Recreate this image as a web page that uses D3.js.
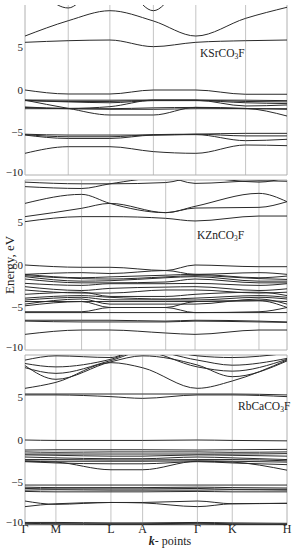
<!DOCTYPE html>
<html>
<head>
<meta charset="utf-8">
<script src="https://cdn.jsdelivr.net/npm/d3@7"></script>
<style>
  body { margin: 0; background: #fff; }
  text { font-family: "Liberation Serif", "DejaVu Serif", serif; fill: #222; }
</style>
</head>
<body>
<div id="chart"></div>
<script>
// k-path labels and positions (fraction of path length) for each compound
var kLabels = ["Γ", "M", "L", "A", "Γ", "K", "H"];
var ksrKDist = [0, 0.165, 0.324, 0.490, 0.652, 0.842, 1];
var kznKDist = [0, 0.216, 0.324, 0.537, 0.649, 0.893, 1];
var rbcKDist = [0, 0.118, 0.328, 0.449, 0.658, 0.791, 1];

var energyTicks = [5, 0, -5, -10];

// band energies (eV) at Γ, M, L, A, Γ, K, H
var ksrBands = [
  [5.61, 5.80, 5.88, 5.10, 5.61, 5.80, 5.88],
  [6.35, 8.15, 9.33, 8.12, 6.35, 8.43, 9.73],
  [14, 9.65, 14, 9.33, 14, 14, 14],
  [0, -0.47, -0.47, 0, 0, -0.5, -0.5],
  [-1.18, -1.2, -1.2, -1.18, -1.18, -1.2, -1.25],
  [-1.2, -1.35, -1.35, -1.2, -1.2, -1.35, -1.4],
  [-1.25, -1.4, -1.5, -1.25, -1.25, -1.5, -1.6],
  [-1.2, -2.16, -2.94, -2.94, -2.04, -2.16, -3.06],
  [-2.0, -2.16, -1.96, -1.2, -1.2, -1.88, -1.76],
  [-2.2, -2.2, -2.27, -2.27, -2.2, -2.2, -2.27],
  [-2.05, -2.2, -2.2, -2.1, -2.05, -2.2, -2.2],
  [-5.2, -5.3, -5.3, -5.3, -5.2, -5.1, -5.1],
  [-5.3, -5.7, -5.7, -5.3, -5.25, -5.96, -5.8],
  [-5.25, -5.5, -5.5, -5.25, -5.2, -5.4, -5.4],
  [-7.45, -6.67, -6.67, -7.25, -7.45, -6.47, -6.55]
];

var kznBands = [
  [5.10, 5.69, 5.69, 5.49, 5.18, 5.76, 5.76],
  [5.69, 6.67, 7.25, 6.16, 6.7, 6.78, 7.45],
  [7.25, 8.31, 7.25, 6.16, 6.9, 8.43, 7.45],
  [9.22, 9.0, 9.55, 10.3, 9.6, 9.9, 9.85],
  [9.75, 9.55, 9.55, 9.7, 10.3, 9.75, 10.3],
  [0, -0.27, -0.27, -0.65, 0, -0.2, -0.2],
  [-1.1, -0.9, -1.0, -0.65, -1.1, -0.9, -1.1],
  [-1.1, -1.5, -1.4, -1.2, -1.1, -1.5, -1.3],
  [-1.25, -1.6, -1.65, -1.4, -1.25, -1.6, -1.7],
  [-1.37, -1.9, -1.85, -1.5, -1.37, -1.9, -1.9],
  [-1.65, -2.1, -2.1, -2.0, -1.65, -2.1, -2.1],
  [-2.16, -2.4, -2.2, -2.2, -2.16, -2.4, -2.2],
  [-2.55, -3.0, -2.75, -2.6, -2.55, -3.0, -2.8],
  [-2.94, -3.3, -3.3, -2.94, -2.94, -3.3, -3.2],
  [-3.45, -3.2, -3.7, -3.7, -3.45, -3.2, -3.6],
  [-3.9, -3.6, -3.8, -4.0, -3.9, -3.6, -3.8],
  [-4.12, -3.8, -4.1, -4.1, -4.12, -3.8, -4.0],
  [-4.3, -4.3, -4.3, -4.3, -4.3, -4.2, -4.3],
  [-4.6, -4.0, -4.6, -4.6, -4.6, -4.0, -4.6],
  [-4.8, -4.3, -5.0, -5.0, -4.3, -4.2, -5.0],
  [-5.5, -5.5, -5.0, -5.0, -5.6, -5.5, -5.0],
  [-5.6, -5.6, -5.6, -5.6, -5.6, -5.6, -5.6],
  [-6.5, -6.5, -6.5, -6.6, -6.5, -6.6, -6.7],
  [-6.6, -6.7, -6.7, -6.7, -6.6, -6.7, -6.75],
  [-8.16, -7.65, -7.65, -8.0, -8.16, -7.65, -7.65]
];

var rbcBands = [
  [5.41, 5.41, 5.41, 5.41, 5.41, 5.41, 5.3],
  [5.3, 5.3, 5.1, 4.9, 5.3, 5.3, 5.1],
  [6.08, 6.78, 9.1, 8.5, 6.08, 6.94, 9.41],
  [8.75, 7.14, 9.2, 9.9, 8.82, 7.45, 9.3],
  [8.51, 7.84, 9.35, 10.4, 8.6, 8.1, 9.5],
  [9.0, 8.6, 9.5, 10.6, 9.4, 8.8, 9.6],
  [9.4, 9.9, 9.7, 11, 9.9, 9.7, 10.2],
  [0, -0.05, -0.05, -0.05, 0, -0.05, -0.1],
  [-1.18, -1.15, -1.15, -1.15, -1.18, -1.15, -1.1],
  [-1.4, -1.45, -1.4, -1.4, -1.4, -1.45, -1.4],
  [-1.65, -1.65, -1.65, -1.65, -1.65, -1.65, -1.6],
  [-1.75, -1.8, -1.9, -1.9, -1.75, -1.8, -1.9],
  [-2.0, -2.1, -2.2, -2.2, -2.0, -2.1, -2.3],
  [-2.3, -2.3, -2.35, -2.35, -2.3, -2.3, -2.45],
  [-2.45, -2.5, -2.5, -2.5, -2.45, -2.5, -2.6],
  [-2.5, -2.6, -3.5, -3.5, -2.5, -2.6, -3.55],
  [-2.55, -2.7, -2.8, -2.8, -2.55, -2.7, -2.9],
  [-5.3, -5.3, -5.3, -5.3, -5.3, -5.3, -5.3],
  [-5.55, -5.6, -5.6, -5.6, -5.55, -5.6, -5.65],
  [-5.7, -5.75, -5.75, -5.75, -5.7, -5.8, -5.8],
  [-5.9, -5.85, -5.9, -5.9, -5.9, -5.85, -5.9],
  [-6.05, -6.1, -6.1, -6.1, -6.05, -6.1, -6.1],
  [-7.18, -7.57, -7.35, -7.35, -7.18, -7.5, -7.45],
  [-7.84, -7.5, -7.35, -7.4, -7.84, -7.5, -7.45],
  [-9.7, -9.7, -9.75, -9.75, -9.7, -9.75, -9.8],
  [-9.8, -9.85, -9.85, -9.85, -9.8, -9.85, -9.9],
  [-9.9, -9.9, -9.95, -9.95, -9.9, -9.95, -9.95]
];

var width = 294, height = 550;
var left = 25, right = 287, panelH = 170;

var panels = [
  {name: "KSr", sub: "3", top: 5, kd: ksrKDist, bands: ksrBands, lx: 200, ly: 57, topBorder: false},
  {name: "KZn", sub: "3", top: 180, kd: kznKDist, bands: kznBands, lx: 197, ly: 239, topBorder: true},
  {name: "RbCa", sub: "3", top: 355, kd: rbcKDist, bands: rbcBands, lx: 238, ly: 410, topBorder: true}
];

var svg = d3.select("#chart").append("svg")
  .attr("width", width)
  .attr("height", height);

var x = d3.scaleLinear().domain([0, 1]).range([left, right]);

panels.forEach(function(p, i){
  var y = d3.scaleLinear().domain([-10, 10]).range([p.top + panelH, p.top]);
  var g = svg.append("g");

  g.append("clipPath").attr("id", "clip" + i)
    .append("rect")
    .attr("x", left).attr("y", p.top)
    .attr("width", right - left).attr("height", panelH);

  // k-point verticals
  g.selectAll(".kline").data(p.kd.slice(1, -1)).enter().append("line")
    .attr("x1", function(d){ return x(d); })
    .attr("x2", function(d){ return x(d); })
    .attr("y1", p.top).attr("y2", p.top + panelH)
    .attr("stroke", "#c4c4c4").attr("stroke-width", 1);

  // frame
  var fr = [[left, p.top, left, p.top + panelH], [right, p.top, right, p.top + panelH],
            [left, p.top + panelH, right, p.top + panelH]];
  if (p.topBorder) fr.push([left, p.top, right, p.top]);
  g.selectAll(".frame").data(fr).enter().append("line")
    .attr("x1", function(d){ return d[0]; }).attr("y1", function(d){ return d[1]; })
    .attr("x2", function(d){ return d[2]; }).attr("y2", function(d){ return d[3]; })
    .attr("stroke", "#b0b0b0").attr("stroke-width", 1);

  var line = d3.line()
    .x(function(d, j){ return x(p.kd[j]); })
    .y(function(d){ return y(d); })
    .curve(d3.curveMonotoneX);

  g.append("g").attr("clip-path", "url(#clip" + i + ")")
    .selectAll("path").data(p.bands).enter().append("path")
    .attr("d", line)
    .attr("fill", "none")
    .attr("stroke", "#2a2a2a")
    .attr("stroke-width", 1);

  // energy tick labels
  g.selectAll(".tick").data(energyTicks).enter().append("text")
    .attr("x", 23)
    .attr("y", function(d){ return y(d) + (d === -10 ? -2.5 : 0); })
    .attr("dy", "0.35em")
    .attr("text-anchor", "end")
    .attr("font-size", 11)
    .text(function(d){ return d3.format("d")(d); });

  // compound label
  var t = g.append("text").attr("x", p.lx).attr("y", p.ly).attr("font-size", 11.5);
  t.append("tspan").text(p.name + "CO");
  t.append("tspan").attr("font-size", 7.5).attr("dy", 1.5).text(p.sub);
  t.append("tspan").attr("dy", -1.5).text("F");
});

// k-point labels under the last panel
svg.selectAll(".klabel").data(rbcKDist).enter().append("text")
  .attr("x", function(d){ return x(d); })
  .attr("y", 533)
  .attr("text-anchor", "middle")
  .attr("font-size", 12)
  .text(function(d, i){ return kLabels[i]; });

var xt = svg.append("text")
  .attr("x", 170).attr("y", 545)
  .attr("text-anchor", "middle")
  .attr("font-size", 12);
xt.append("tspan").attr("font-weight", "bold").attr("font-style", "italic").text("k");
xt.append("tspan").text("- points");

svg.append("text")
  .attr("transform", "translate(14,265) rotate(-90)")
  .attr("text-anchor", "middle")
  .attr("font-size", 13)
  .text("Energy, eV");
</script>
</body>
</html>
